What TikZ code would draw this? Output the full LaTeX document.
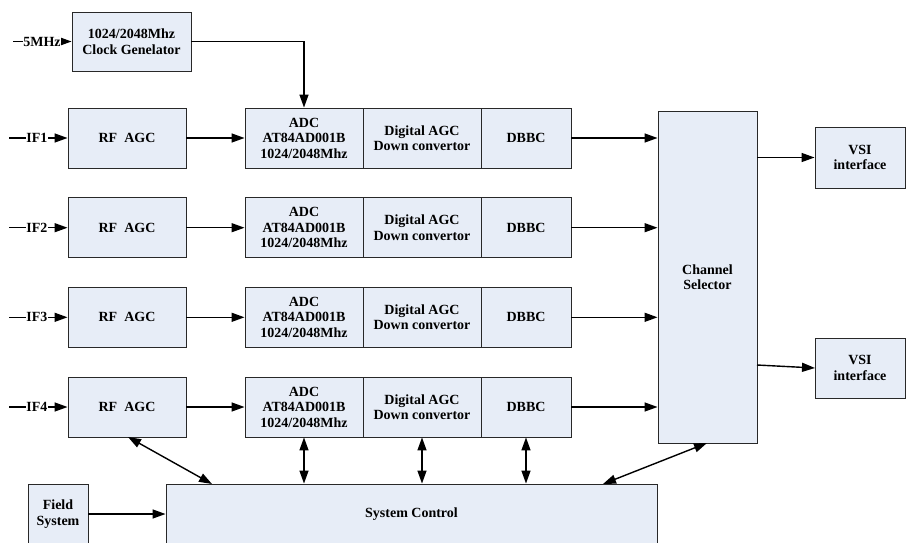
\documentclass[tikz,border=0pt]{standalone}
\usepackage{fontspec}
\setmainfont{Liberation Serif}
\usetikzlibrary{arrows.meta,calc}
\definecolor{boxfill}{RGB}{231,237,247}
\definecolor{boxline}{RGB}{40,40,40}
\tikzset{
  blk/.style={draw=boxline, fill=boxfill, line width=0.9pt, inner sep=0pt, align=center,
    font=\fontsize{14}{15.5}\selectfont\bfseries},
  conn/.style={line width=1.4pt, -{Triangle[length=13pt,width=9pt]}},
  bconn/.style={line width=1.4pt, {Triangle[length=13pt,width=9pt]}-{Triangle[length=13pt,width=9pt]}},
  inlbl/.style={fill=white, inner sep=0.3pt, font=\fontsize{14}{15.5}\selectfont\bfseries}
}
\begin{document}
\begin{tikzpicture}[x=1pt,y=-1pt]
\useasboundingbox (0,0) rectangle (906,542);
\clip (0,0) rectangle (906,542);
% clock
\node[blk, minimum width=119, minimum height=59] (clk) at (131.5,41.5) {1024/2048Mhz\\Clock Genelator};
% rows
\foreach \i/\y in {1/138,2/227.7,3/317.3,4/407}{
  \node[blk, minimum width=118, minimum height=60] (rf\i) at (127,\y) {RF~~AGC};
  \node[blk, minimum width=118, minimum height=60] (adc\i) at (304,\y) {ADC\\AT84AD001B\\1024/2048Mhz};
  \node[blk, minimum width=118, minimum height=60] (dagc\i) at (422,\y) {Digital AGC\\Down convertor};
  \node[blk, minimum width=90, minimum height=60] (dbbc\i) at (526,\y) {DBBC};
  \coordinate (in\i) at (9,\y);
}
\node[blk, minimum width=99, minimum height=332] (chsel) at (707.5,277) {Channel\\Selector};
\node[blk, minimum width=90, minimum height=61] (vsi1) at (860,157.5) {VSI\\interface};
\node[blk, minimum width=90, minimum height=60] (vsi2) at (860,368) {VSI\\interface};
\node[blk, minimum width=491, minimum height=60] (sys) at (411.5,514) {System Control};
\node[blk, minimum width=60, minimum height=60] (field) at (58,514) {Field\\System};
% clock input
\coordinate (in0) at (13,41.5);
\draw[conn] (in0) -- (clk.west);
\node[inlbl] (l0) at (42,41.5) {5MHz};
\draw[conn] (clk.east) -| (adc1.north);
\foreach \i in {1,2,3,4}{
  \draw[conn] (in\i) -- (rf\i.west);
  \node[inlbl] (l\i) at (37,0 |- rf\i.west) {IF\i};
  \draw[conn] (rf\i.east) -- (adc\i.west);
  \draw[conn] (dbbc\i.east) -- (dbbc\i.east -| chsel.west);
}
% outputs
\coordinate (o1) at (757,157.5);
\draw[conn] (o1) -- (vsi1.west);
\coordinate (o2) at (757,365);
\draw[conn] (o2) -- (815,368) coordinate (vsi2in);
% control links
\coordinate (s1) at (212,484);
\coordinate (r4s) at (128,437);
\draw[bconn] (r4s) -- (s1);
\draw[bconn] (adc4.south) -- (adc4.south |- sys.north);
\draw[bconn] (dagc4.south) -- (dagc4.south |- sys.north);
\draw[bconn] (dbbc4.south) -- (dbbc4.south |- sys.north);
\coordinate (c1) at (707,443);
\coordinate (s2) at (603,484);
\draw[bconn] (c1) -- (s2);
\draw[conn] (field.east) -- (field.east -| sys.west);
\end{tikzpicture}
\end{document}
